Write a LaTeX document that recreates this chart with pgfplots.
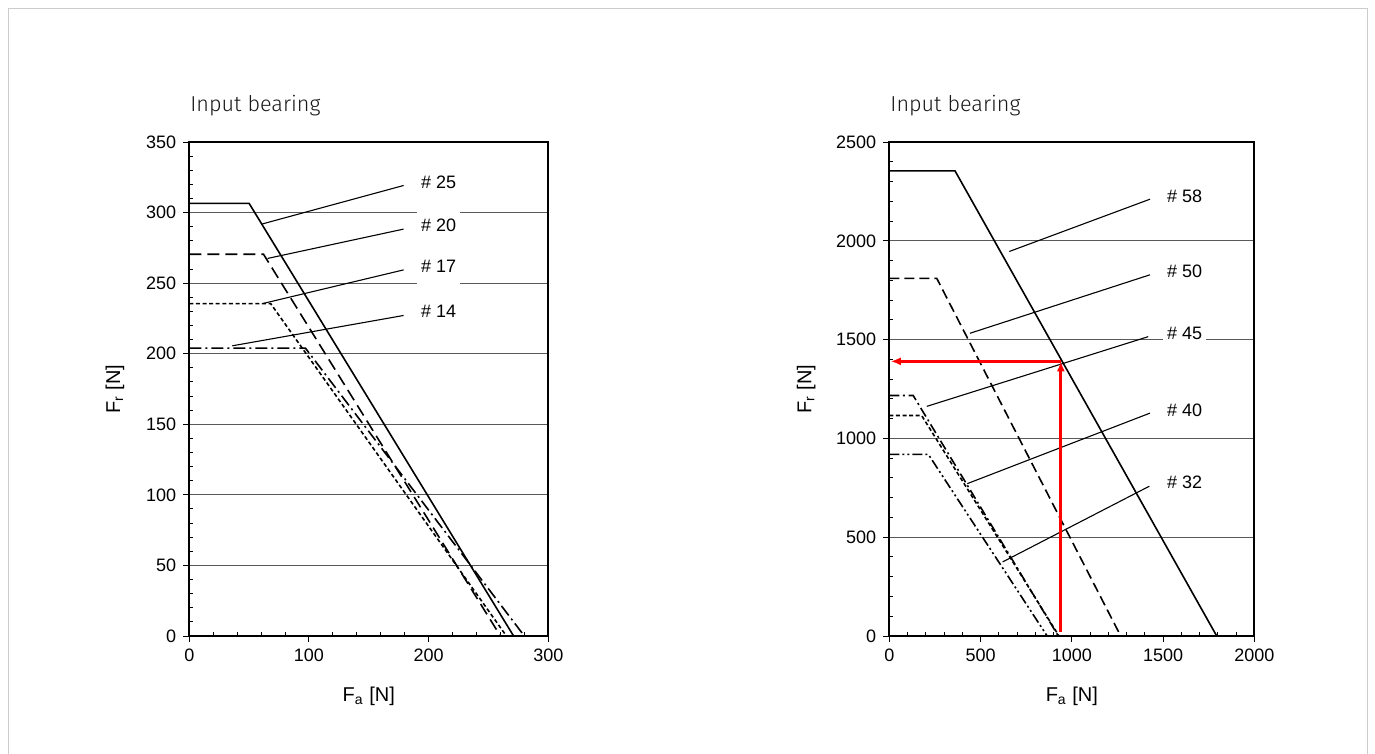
\documentclass[border=0pt]{standalone}
\usepackage{pgfplots}
\pgfplotsset{compat=1.18}
\usetikzlibrary{arrows.meta}
\usepackage{fontspec}
\setmainfont{Liberation Sans}
\newfontfamily\titlefont{Fira Sans}[UprightFont=* Light]

\pgfplotsset{
  bearing/.style={
    scale only axis,
    height=247pt,
    axis line style={line width=0.9pt},
    tick pos=left,
    tick align=outside,
    major tick length=3pt,
    minor tick length=1.8pt,
    every tick/.style={black, line width=0.5pt},
    every minor x tick/.append style={yshift=1.8pt},
    every minor y tick/.append style={xshift=1.8pt},
    minor x tick num=4,
    minor y tick num=4,
    ymajorgrids,
    major grid style={black!65, line width=0.55pt},
    /pgf/number format/assume math mode=true,
    /pgf/number format/1000 sep={},
    tick label style={font=\fontsize{9}{10}\selectfont},
    label style={font=\fontsize{9}{10}\selectfont},
    clip=false,
  },
  curve/.style={black, line width=0.8pt},
  leader/.style={black, line width=0.55pt},
}
\tikzset{
  tag/.style={fill=white, inner xsep=2pt, inner ysep=0pt, minimum height=18pt,
              anchor=west, font=\fontsize{9}{10}\selectfont},
}

\begin{document}
\begin{tikzpicture}
\useasboundingbox (0,0) rectangle (687.5pt,-377pt);
% light frame round the page
\draw[black!20, line width=0.5pt] (4pt,-400pt) -- (4pt,-4.5pt) -- (683.5pt,-4.5pt) -- (683.5pt,-400pt);

\node[anchor=base west, inner sep=0pt, font=\titlefont\fontsize{10.8}{13}\selectfont, text=black!90]
  at (95pt,-55.8pt) {Input bearing};
\node[anchor=base west, inner sep=0pt, font=\titlefont\fontsize{10.8}{13}\selectfont, text=black!90]
  at (445pt,-55.8pt) {Input bearing};

% ---- left: small sizes
\begin{axis}[bearing,
  at={(94.65pt,-318pt)}, anchor=south west,
  width=179.5pt,
  xmin=0, xmax=300, ymin=0, ymax=350,
  xtick={0,100,200,300},
  ytick={0,50,100,150,200,250,300,350},
  xlabel={F\textsubscript{a} [N]},
  ylabel={F\textsubscript{r} [N]},
  every axis x label/.style={at={(axis description cs:0.5,-0.122)}, anchor=center},
  every axis y label/.style={at={(axis description cs:-0.207,0.5)}, rotate=90, anchor=center},
]
% #25
\addplot[curve] coordinates {(0,306.5) (50,306.5) (271,0)};
% #20
\addplot[curve, dash pattern=on 6pt off 3pt] coordinates {(0,270.5) (62,270.5) (260,0)};
% #17
\addplot[curve, dash pattern=on 2pt off 1.3pt] coordinates {(0,235.5) (68,235.5) (265,0)};
% #14
\addplot[curve, dash pattern=on 6pt off 2pt on 1pt off 2pt] coordinates {(0,204) (97,204) (280,0)};

\addplot[leader] coordinates {(60.8,291.9) (179.1,319.2)};
\addplot[leader] coordinates {(65.4,267.5) (179.1,288.3)};
\addplot[leader] coordinates {(62.1,235.7) (179.1,259.4)};
\addplot[leader] coordinates {(35.9,205.6) (179.1,227.1)};

\node[tag] at (axis cs:190,321.5) {\# 25};
\node[tag] at (axis cs:190,290.9) {\# 20};
\node[tag] at (axis cs:190,261.7) {\# 17};
\node[tag] at (axis cs:190,229.9) {\# 14};
\end{axis}

% ---- right: large sizes
\begin{axis}[bearing,
  at={(444.65pt,-318pt)}, anchor=south west,
  width=182.5pt,
  xmin=0, xmax=2000, ymin=0, ymax=2500,
  xtick={0,500,1000,1500,2000},
  ytick={0,500,1000,1500,2000,2500},
  xlabel={F\textsubscript{a} [N]},
  ylabel={F\textsubscript{r} [N]},
  every axis x label/.style={at={(axis description cs:0.5,-0.122)}, anchor=center},
  every axis y label/.style={at={(axis description cs:-0.228,0.5)}, rotate=90, anchor=center},
]
% #58
\addplot[curve] coordinates {(0,2354) (360,2354) (1794,0)};
% #50
\addplot[curve, dash pattern=on 5pt off 2.5pt] coordinates {(0,1810) (260,1810) (1268,0)};
% #45
\addplot[curve, dash pattern=on 5pt off 1.8pt on 1pt off 1.8pt] coordinates {(0,1217) (131,1217) (926,0)};
% #40
\addplot[curve, dash pattern=on 2pt off 1.3pt] coordinates {(0,1116) (177,1116) (930,0)};
% #32
\addplot[curve, dash pattern=on 5pt off 1.5pt on 1pt off 1.5pt on 1pt off 1.5pt] coordinates {(0,919) (214,919) (865,0)};

\addplot[leader] coordinates {(657.5,1946) (1428.5,2210.6)};
\addplot[leader] coordinates {(442,1532) (1428.5,1828)};
\addplot[leader] coordinates {(205,1162) (1419,1515)};
\addplot[leader] coordinates {(427,771) (1428.5,1128)};
\addplot[leader] coordinates {(621,375) (1424.7,758)};

% reading example
\addplot[red, line width=1.5pt, -{Latex[length=5pt,width=4pt]}] coordinates {(940,22) (940,1390)};
\addplot[red, line width=1.5pt, -{Latex[length=5pt,width=4pt]}] coordinates {(940,1390) (8,1390)};

\node[tag] at (axis cs:1498,2227) {\# 58};
\node[tag] at (axis cs:1498,1848) {\# 50};
\node[tag] at (axis cs:1498,1532) {\# 45};
\node[tag] at (axis cs:1498,1141) {\# 40};
\node[tag] at (axis cs:1498,779) {\# 32};
\end{axis}
\end{tikzpicture}
\end{document}
